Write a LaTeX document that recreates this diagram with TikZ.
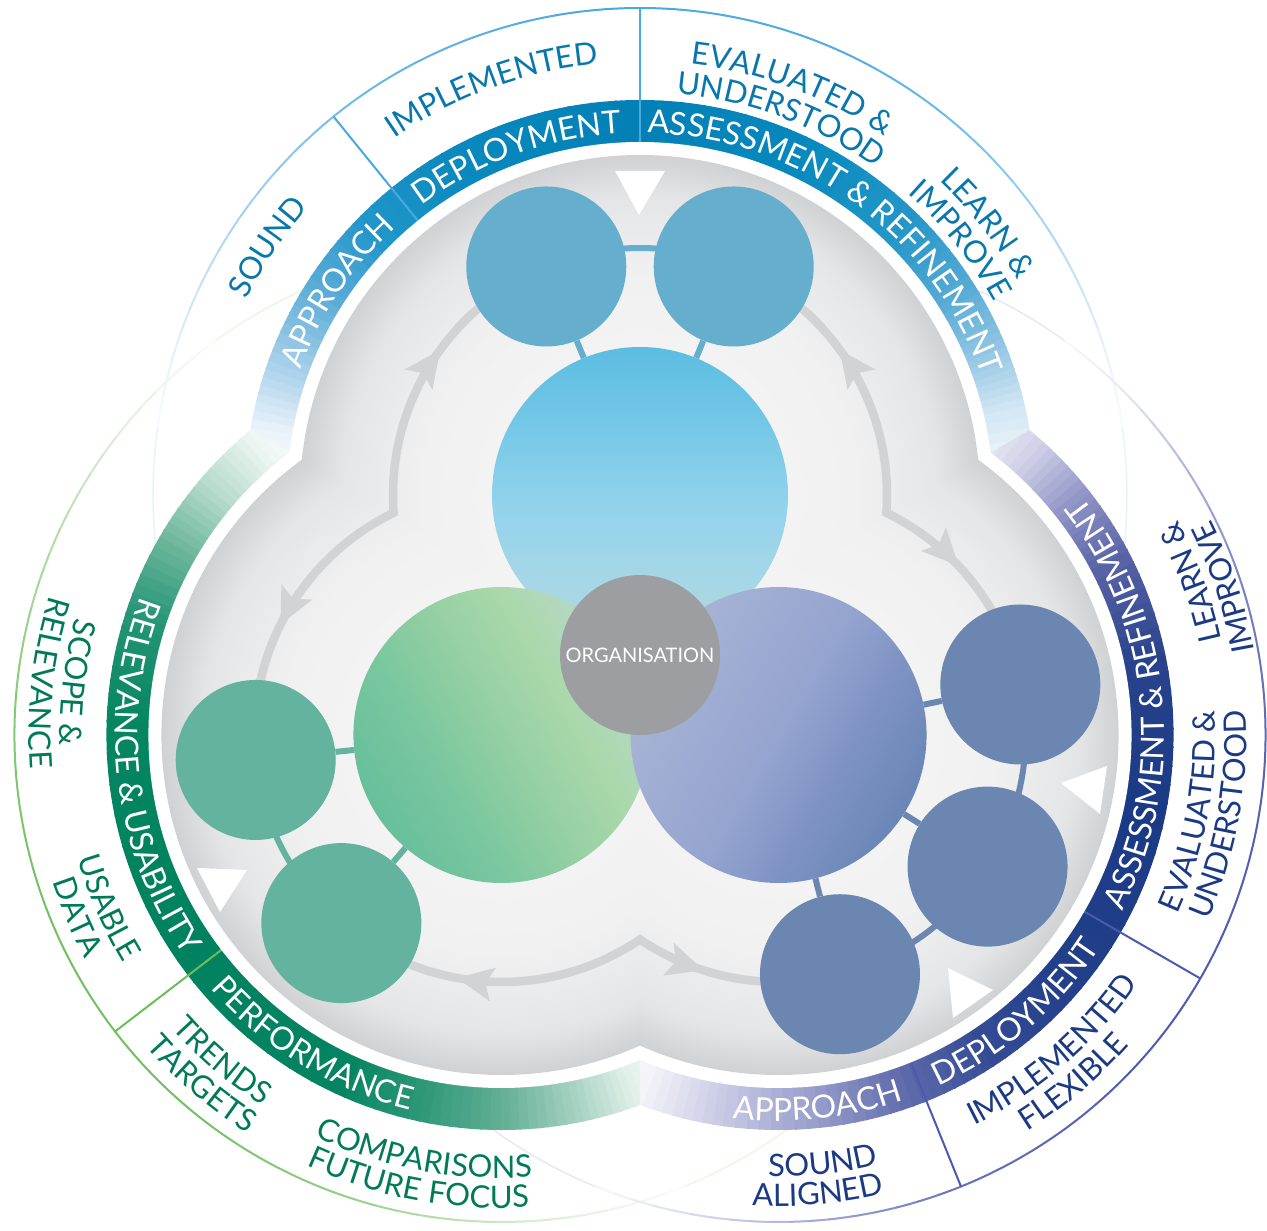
\documentclass[tikz,border=0pt]{standalone}
\usepackage{fontspec}
\setmainfont{Lato}
\usetikzlibrary{decorations.text,decorations.markings,arrows.meta,calc}

\definecolor{thinB}{HTML}{4AA8E0}
\definecolor{thinG}{HTML}{6CBD5A}
\definecolor{thinP}{HTML}{4B5AAD}
\definecolor{labB}{HTML}{0877AC}
\definecolor{labG}{HTML}{007A5A}
\definecolor{labP}{HTML}{1B3A84}
\definecolor{arrowgrey}{HTML}{D2D3D5}
\definecolor{cT}{HTML}{66AECD}
\definecolor{cL}{HTML}{64B39E}
\definecolor{cR}{HTML}{6A86B1}
\definecolor{orgc}{HTML}{9D9EA2}
\definecolor{gA}{HTML}{F7F7F8}
\definecolor{gB}{HTML}{F1F1F2}
\definecolor{gC}{HTML}{E4E5E6}
\definecolor{gD}{HTML}{D0D1D3}
% band stops
\definecolor{b0}{HTML}{FFFFFF}\definecolor{b1}{HTML}{EAF3FA}\definecolor{b2}{HTML}{A9D0EA}
\definecolor{b3}{HTML}{5EAED8}\definecolor{b4}{HTML}{2196C9}\definecolor{b5}{HTML}{0888BD}
\definecolor{b6}{HTML}{0381B6}\definecolor{b7}{HTML}{0789BD}\definecolor{b8}{HTML}{2597C8}
\definecolor{b9}{HTML}{58ABD5}\definecolor{b10}{HTML}{94C7E4}\definecolor{b11}{HTML}{D3E7F4}
\definecolor{b12}{HTML}{FFFFFF}
\definecolor{g0}{HTML}{FFFFFF}\definecolor{g1}{HTML}{EEF6F3}\definecolor{g2}{HTML}{B4DACB}
\definecolor{g3}{HTML}{6CB69B}\definecolor{g4}{HTML}{259576}\definecolor{g5}{HTML}{058661}
\definecolor{g6}{HTML}{008160}\definecolor{g7}{HTML}{048462}\definecolor{g8}{HTML}{2E9878}
\definecolor{g9}{HTML}{62AE94}\definecolor{g10}{HTML}{A3D0C0}\definecolor{g11}{HTML}{E0EFE9}
\definecolor{g12}{HTML}{FFFFFF}
\definecolor{p0}{HTML}{FFFFFF}\definecolor{p1}{HTML}{F2F2F8}\definecolor{p2}{HTML}{C6C8E3}
\definecolor{p3}{HTML}{979CCA}\definecolor{p4}{HTML}{5E6AAB}\definecolor{p5}{HTML}{354C95}
\definecolor{p6}{HTML}{223F89}\definecolor{p7}{HTML}{1B3A86}\definecolor{p8}{HTML}{2A438D}
\definecolor{p9}{HTML}{5A65A7}\definecolor{p10}{HTML}{8F93C5}\definecolor{p11}{HTML}{CFD0E7}
\definecolor{p12}{HTML}{FFFFFF}
% big circle colours
\definecolor{sB0}{HTML}{B2D6DA}\definecolor{sB1}{HTML}{A6D7E6}\definecolor{sB2}{HTML}{93D3EC}
\definecolor{sB3}{HTML}{78C9E8}\definecolor{sB4}{HTML}{5BBDE1}
\definecolor{sG0}{HTML}{B8D7CC}\definecolor{sG1}{HTML}{AAD8AA}\definecolor{sG2}{HTML}{90CEA2}
\definecolor{sG3}{HTML}{7AC79F}\definecolor{sG4}{HTML}{67BF9C}
\definecolor{sP0}{HTML}{A8B5D5}\definecolor{sP1}{HTML}{9EACD3}\definecolor{sP2}{HTML}{95A4D0}
\definecolor{sP3}{HTML}{7E93C3}\definecolor{sP4}{HTML}{6A86B5}

\pgfdeclareradialshading{greyR}{\pgfpointorigin}{color(0bp)=(gA); color(16bp)=(gB); color(22bp)=(gC); color(25bp)=(gD); color(50bp)=(gD)}
\pgfdeclareverticalshading{shB}{100bp}{color(0bp)=(sB0); color(25bp)=(sB0); color(35bp)=(sB1); color(48bp)=(sB2); color(60bp)=(sB3); color(75bp)=(sB4); color(100bp)=(sB4)}
\pgfdeclareverticalshading{shG}{100bp}{color(0bp)=(sG0); color(25bp)=(sG0); color(38bp)=(sG1); color(52bp)=(sG2); color(62bp)=(sG3); color(75bp)=(sG4); color(100bp)=(sG4)}
\pgfdeclareverticalshading{shP}{100bp}{color(0bp)=(sP0); color(25bp)=(sP0); color(38bp)=(sP1); color(50bp)=(sP2); color(62bp)=(sP3); color(75bp)=(sP4); color(100bp)=(sP4)}

\newcommand\bandfont{\fontsize{32}{34}\selectfont}
\newcommand\labfont{\fontsize{31}{33}\selectfont}

\newcommand\bandsectors[1]{%
  \foreach \angA/\colA/\angB/\colB in {#1} {%
    \foreach \kk in {0,...,7} {%
      \pgfmathsetmacro\tA{\angA+(\angB-\angA)*\kk/8}%
      \pgfmathsetmacro\tB{\angA+(\angB-\angA)*(\kk+1)/8}%
      \pgfmathsetmacro\mixp{100-100*(\kk+0.5)/8}%
      \filldraw[line width=1.5pt, draw=\colA!\mixp!\colB, fill=\colA!\mixp!\colB] (0,0) -- (\tA:430) arc[start angle=\tA, end angle=\tB, radius=430] -- cycle;
    }%
  }%
}
\newcommand\gradarc[3]{%
  \foreach \angA/\pA/\angB/\pB in {#3} {%
    \foreach \kk in {0,...,5} {%
      \pgfmathsetmacro\tA{\angA+(\angB-\angA)*\kk/6}%
      \pgfmathsetmacro\tB{\angA+(\angB-\angA)*(\kk+1)/6}%
      \pgfmathsetmacro\mixp{\pA+(\pB-\pA)*(\kk+0.5)/6}%
      \draw[#1!\mixp!white, line width=2pt, line cap=round] (\tA:#2) arc[start angle=\tA, end angle=\tB, radius=#2];
    }%
  }%
}
\newcommand\cwtext[5]{%
  \path[decorate, decoration={text along path, text={|#3|#5}, text align=center, text color=#4}]
    ({#1+70}:#2) arc[start angle={#1+70}, end angle={#1-70}, radius=#2];}
\newcommand\ccwtext[5]{%
  \path[decorate, decoration={text along path, text={|#3|#5}, text align=center, text color=#4}]
    ({#1-70}:#2) arc[start angle={#1-70}, end angle={#1+70}, radius=#2];}

\tikzset{
  bigc/.style={circle, minimum size=296pt, inner sep=0pt, shade},
  smallc/.style={circle, minimum size=160pt, inner sep=0pt},
  arrowline/.style={arrowgrey, line width=8.5pt, line join=miter},
  spoke/.style={line width=6pt},
  grtip/.style={color=arrowgrey},
  headtip/.tip={Stealth[length=36pt,width=33pt,inset=7pt]},
}

\begin{document}
\begin{tikzpicture}[x=1pt,y=1pt]
\useasboundingbox (-640,-576) rectangle (627,655);
\coordinate (B) at (0,160);
\coordinate (G) at (-138.564,-80);
\coordinate (P) at (138.564,-80);

% faint full thin circles
\draw[thinB!14!white, line width=1.5pt] (B) circle[radius=487];
\draw[thinG!14!white, line width=1.5pt] (G) circle[radius=487];
\draw[thinP!14!white, line width=1.5pt] (P) circle[radius=487];

% graded main thin arcs
\begin{scope}[shift={(0,160)}]
\gradarc{thinB}{487}{172/3/160/20, 160/20/145/50, 145/50/125/80, 125/80/95/100, 95/100/65/95, 65/95/45/70, 45/70/30/40, 30/40/18/15, 18/15/8/3}
\end{scope}
\begin{scope}[shift={(-138.564,-80)}]
\gradarc{thinG}{487}{126/3/140/20, 140/20/155/50, 155/50/175/80, 175/80/200/95, 200/95/230/95, 230/95/250/75, 250/75/265/45, 265/45/278/20, 278/20/292/3}
\end{scope}
\begin{scope}[shift={(138.564,-80)}]
\gradarc{thinP}{487}{248/3/262/25, 262/25/276/55, 276/55/292/85, 292/85/320/100, 320/100/355/95, 355/95/378/75, 378/75/393/45, 393/45/404/15, 404/15/414/3}
\end{scope}

% coloured bands
\begin{scope}
\clip (B) circle[radius=395] (G) circle[radius=395] (P) circle[radius=395];
\begin{scope}
\clip (0,0) -- (30:1000) -- (90:1000) -- (150:1000) -- cycle;
\begin{scope}[shift={(0,160)}]
\bandsectors{180/b0/170/b1, 170/b1/160/b2, 160/b2/148/b3, 148/b3/135/b4, 135/b4/118/b5, 118/b5/90/b6, 90/b6/65/b7, 65/b7/45/b8, 45/b8/32/b9, 32/b9/22/b10, 22/b10/13/b11, 13/b11/0/b12}
\end{scope}
\end{scope}
\begin{scope}
\clip (0,0) -- (150:1000) -- (210:1000) -- (270:1000) -- cycle;
\begin{scope}[shift={(-138.564,-80)}]
\bandsectors{120/g0/130/g1, 130/g1/140/g2, 140/g2/150/g3, 150/g3/162/g4, 162/g4/178/g5, 178/g5/215/g6, 215/g6/245/g7, 245/g7/258/g8, 258/g8/270/g9, 270/g9/281/g10, 281/g10/290/g11, 290/g11/300/g12}
\end{scope}
\end{scope}
\begin{scope}
\clip (0,0) -- (270:1000) -- (330:1000) -- (390:1000) -- cycle;
\begin{scope}[shift={(138.564,-80)}]
\bandsectors{240/p0/250/p1, 250/p1/262/p2, 262/p2/276/p3, 276/p3/290/p4, 290/p4/303/p5, 303/p5/320/p6, 320/p6/350/p7, 350/p7/372/p8, 372/p8/388/p9, 388/p9/398/p10, 398/p10/408/p11, 408/p11/420/p12}
\end{scope}
\end{scope}
\end{scope}

% dividers
\begin{scope}[shift={(0,160)}]
\draw[thinB, line width=2pt] (90:353) -- (90:487);
\draw[thinB, line width=2pt] (129:353) -- (129:487);
\end{scope}
\begin{scope}[shift={(-138.564,-80)}]
\draw[thinG, line width=2pt] (217.5:353) -- (217.5:487);
\end{scope}
\begin{scope}[shift={(138.564,-80)}]
\draw[thinP, line width=2pt] (-68:353) -- (-68:487);
\draw[thinP, line width=2pt] (-30:353) -- (-30:487);
\end{scope}

% white gap and grey field
\fill[white] (B) circle[radius=353] (G) circle[radius=353] (P) circle[radius=353];
\fill[gD] (B) circle[radius=340] (G) circle[radius=340] (P) circle[radius=340];
\begin{scope}[blend mode=lighten]
\shade[shading=greyR] (B) circle[radius=340];
\shade[shading=greyR] (G) circle[radius=340];
\shade[shading=greyR] (P) circle[radius=340];
\end{scope}

% band texts and outer labels
\begin{scope}[shift={(0,160)}]
\cwtext{146}{362}{\bandfont}{white}{APPROACH}
\cwtext{110}{362}{\bandfont}{white}{DEPLOYMENT}
\cwtext{54}{362}{\bandfont}{white}{ASSESSMENT {\&} REFINEMENT}
\cwtext{146.3}{439}{\labfont}{labB}{SOUND}
\cwtext{110}{433}{\labfont}{labB}{IMPLEMENTED}
\cwtext{69.5}{434}{\labfont}{labB}{EVALUATED {\&}}
\cwtext{69.5}{403}{\labfont}{labB}{UNDERSTOOD}
\cwtext{38}{434}{\labfont}{labB}{LEARN {\&}}
\cwtext{38.5}{403}{\labfont}{labB}{IMPROVE}
\end{scope}
\begin{scope}[shift={(-138.564,-80)}]
\ccwtext{187}{386}{\bandfont}{white}{RELEVANCE {\&} USABILITY}
\ccwtext{238.7}{386}{\bandfont}{white}{PERFORMANCE}
\ccwtext{173}{441.5}{\labfont}{labG}{SCOPE {\&}}
\ccwtext{173.5}{472.5}{\labfont}{labG}{RELEVANCE}
\ccwtext{203.7}{441.5}{\labfont}{labG}{USABLE}
\ccwtext{203.2}{472.5}{\labfont}{labG}{DATA}
\ccwtext{229.4}{441.5}{\labfont}{labG}{TRENDS}
\ccwtext{229.3}{472.5}{\labfont}{labG}{TARGETS}
\ccwtext{259.5}{443}{\labfont}{labG}{COMPARISONS}
\ccwtext{259.5}{473}{\labfont}{labG}{FUTURE FOCUS}
\end{scope}
\begin{scope}[shift={(138.564,-80)}]
\ccwtext{276}{386}{\bandfont}{white}{APPROACH}
\ccwtext{310.5}{386}{\bandfont}{white}{DEPLOYMENT}
\ccwtext{365.5}{386}{\bandfont}{white}{ASSESSMENT {\&} REFINEMENT}
\ccwtext{275.9}{441.5}{\labfont}{labP}{SOUND}
\ccwtext{274.9}{471}{\labfont}{labP}{ALIGNED}
\ccwtext{311}{437}{\labfont}{labP}{IMPLEMENTED}
\ccwtext{310.3}{468}{\labfont}{labP}{FLEXIBLE}
\ccwtext{349.5}{437}{\labfont}{labP}{EVALUATED {\&}}
\ccwtext{349.8}{468}{\labfont}{labP}{UNDERSTOOD}
\ccwtext{20.3}{453}{\labfont}{labP}{LEARN {\&}}
\ccwtext{18.3}{483}{\labfont}{labP}{IMPROVE}
\end{scope}

% white triangles
\fill[white] (-25,484) -- (25,484) -- (-1,440) -- cycle;
\fill[white] (-443,-213) -- (-393,-215) -- (-420,-257) -- cycle;
\fill[white] (421,-128) -- (467,-111) -- (460,-159) -- cycle;
\fill[white] (308,-313) -- (353,-335) -- (313,-363) -- cycle;

% grey cycle arrows
\draw[arrowline, postaction={decorate}, decoration={markings,
    mark=at position 136.7pt with {\arrowreversed[grtip]{headtip}},
    mark=at position 471.8pt with {\arrow[grtip]{headtip}}}]
  ($(B)+(112.3:247)$) arc[start angle=112.3, end angle=184.124, radius=247]
  arc[start angle=115.876, end angle=185.8, radius=247];
\draw[arrowline, postaction={decorate}, decoration={markings,
    mark=at position 136.7pt with {\arrowreversed[grtip]{headtip}},
    mark=at position 399.8pt with {\arrow[grtip]{headtip}}}]
  ($(B)+(67.7:247)$) arc[start angle=67.7, end angle=-4.124, radius=247]
  arc[start angle=64.124, end angle=11.8, radius=247];
\draw[arrowline, postaction={decorate}, decoration={markings,
    mark=at position 129.3pt with {\arrowreversed[grtip]{headtip}},
    mark=at position 392.1pt with {\arrow[grtip]{headtip}}}]
  ($(G)+(229.6:247)$) arc[start angle=229.6, end angle=304.124, radius=247]
  arc[start angle=235.876, end angle=284.4, radius=247];

% coloured arcs between small circles
\draw[cT, spoke] ($(B)+(67.7:247)$) arc[start angle=67.7, end angle=112.3, radius=247];
\draw[cL, spoke] ($(G)+(185.8:247)$) arc[start angle=185.8, end angle=229.6, radius=247];
\draw[cR, spoke] ($(P)+(-75.6:247)$) arc[start angle=-75.6, end angle=11.8, radius=247];

% big circles
\node[bigc, shading=shB, shading angle=0] (BB) at (B) {};
\node[bigc, shading=shG, shading angle=120] (BG) at (G) {};
\node[bigc, shading=shP, shading angle=240] (BP) at (P) {};

% small circles
\node[smallc, fill=cT] (T1) at ($(B)+(112.3:247)$) {};
\node[smallc, fill=cT] (T2) at ($(B)+(67.7:247)$) {};
\node[smallc, fill=cL] (L1) at ($(G)+(185.8:247)$) {};
\node[smallc, fill=cL] (L2) at ($(G)+(229.6:247)$) {};
\node[smallc, fill=cR] (R1) at ($(P)+(11.8:247)$) {};
\node[smallc, fill=cR] (R2) at ($(P)+(-32.2:247)$) {};
\node[smallc, fill=cR] (R3) at ($(P)+(-75.6:247)$) {};

% spokes
\draw[cT, spoke] (BB) -- (T1);
\draw[cT, spoke] (BB) -- (T2);
\draw[cL, spoke] (BG) -- (L1);
\draw[cL, spoke] (BG) -- (L2);
\draw[cR, spoke] (BP) -- (R1);
\draw[cR, spoke] (BP) -- (R2);
\draw[cR, spoke] (BP) -- (R3);

% centre
\node[circle, fill=orgc, minimum size=160pt, inner sep=0pt, text=white, font=\fontsize{20}{22}\selectfont] (ORG) at (0,0) {ORGANISATION};
\end{tikzpicture}
\end{document}
